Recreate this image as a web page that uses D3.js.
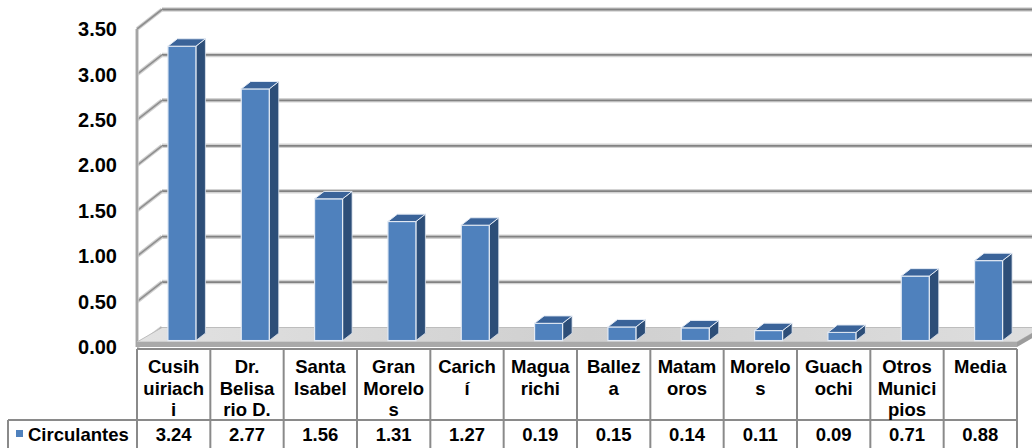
<!DOCTYPE html>
<html><head><meta charset="utf-8">
<script src="https://cdn.jsdelivr.net/npm/d3@7"></script>
<style>html,body{margin:0;padding:0;background:#fff;}svg{display:block;font-family:"Liberation Sans",Arial,sans-serif;}</style>
</head><body><svg id="c" width="1032" height="448"></svg>
<script>
const categories = ["Cusih\nuiriach\ni","Dr.\nBelisa\nrio D.","Santa\nIsabel","Gran\nMorelo\ns","Carich\ní","Magua\nrichi","Ballez\na","Matam\noros","Morelo\ns","Guach\nochi","Otros\nMunici\npios","Media"];
const values = [3.24,2.77,1.56,1.31,1.27,0.19,0.15,0.14,0.11,0.09,0.71,0.88];
const valueLabels = ["3.24","2.77","1.56","1.31","1.27","0.19","0.15","0.14","0.11","0.09","0.71","0.88"];
const yTicks = [0,0.5,1,1.5,2,2.5,3,3.5];
const seriesName = "Circulantes";

const svg = d3.select("#c");
const W = 1032, H = 448;
const DX = 25, DY = 19.5;           // depth projection
const x = d3.scaleBand().domain(categories).range([137, 1017]).padding(0);
const y = d3.scaleLinear().domain([0, 3.5]).range([347, 29]);
const bw = x.bandwidth();

const defs = svg.append("defs");
const fg = defs.append("linearGradient").attr("id","floorG").attr("x1",0).attr("y1",0).attr("x2",1).attr("y2",0);
fg.append("stop").attr("offset","0%").attr("stop-color","#e2e2e2");
fg.append("stop").attr("offset","50%").attr("stop-color","#cfcfcf");
fg.append("stop").attr("offset","100%").attr("stop-color","#dedede");

// back wall gridlines
const grid = svg.append("g");
yTicks.forEach(v => {
  const yb = y(v) - DY;
  if (v > 0) {
    grid.append("line").attr("x1",137+DX).attr("x2",W).attr("y1",yb).attr("y2",yb)
      .attr("stroke","#d3d3d3").attr("stroke-width",4.5);
    grid.append("line").attr("x1",137+DX).attr("x2",W).attr("y1",yb).attr("y2",yb)
      .attr("stroke","#828282").attr("stroke-width",1.8);
  }
  grid.append("line").attr("x1",137).attr("x2",137+DX).attr("y1",y(v)).attr("y2",yb)
    .attr("stroke","#d0d0d0").attr("stroke-width",4);
  grid.append("line").attr("x1",137).attr("x2",137+DX).attr("y1",y(v)).attr("y2",yb)
    .attr("stroke","#8f8f8f").attr("stroke-width",1.6);
});
// left wall front edge
grid.append("line").attr("x1",137).attr("x2",137).attr("y1",y(3.5)).attr("y2",y(0))
  .attr("stroke","#c8c8c8").attr("stroke-width",3.5);
grid.append("line").attr("x1",137).attr("x2",137).attr("y1",y(3.5)).attr("y2",y(0))
  .attr("stroke","#9a9a9a").attr("stroke-width",1.5);

// floor slab
const fy = y(0) - 5, by = y(0) - DY;
svg.append("polygon").attr("points",[[137,fy],[1017,fy],[1017+DX,by],[137+DX,by]].map(p=>p.join(",")).join(" "))
  .attr("fill","url(#floorG)").attr("stroke","#bdbdbd").attr("stroke-width",1);
svg.append("rect").attr("x",137).attr("y",fy).attr("width",880).attr("height",5).attr("fill","#a9a9a9");
svg.append("polygon").attr("points",[[1017,fy],[1017+DX,by],[1017+DX,by+5],[1017,y(0)]].map(p=>p.join(",")).join(" "))
  .attr("fill","#9c9c9c");

// bars
const zf = 0.33, dd = 0.38, w = 28;
const bars = svg.append("g");
categories.forEach((c, i) => {
  const v = values[i];
  const xl = x(c) + bw/2 - w/2 + zf*DX;
  const xr = xl + w;
  const yt = y(v) - zf*DY, yb = y(0) - zf*DY;
  const ox = dd*DX, oy = dd*DY;
  const pts = a => a.map(p=>p.join(",")).join(" ");
  bars.append("polygon").attr("points", pts([[xr,yt],[xr+ox,yt-oy],[xr+ox,yb-oy],[xr,yb]]))
    .attr("fill","#2d4e78").attr("stroke","#dfe6f0").attr("stroke-width",0.8);
  bars.append("rect").attr("x",xl).attr("y",yt).attr("width",w).attr("height",yb-yt)
    .attr("fill","#4f81bd").attr("stroke","#e4ebf5").attr("stroke-width",1.2);
  bars.append("polygon").attr("points", pts([[xl,yt],[xr,yt],[xr+ox,yt-oy],[xl+ox,yt-oy]]))
    .attr("fill","#3a6399").attr("stroke","#e4ebf5").attr("stroke-width",1);
});

// y axis labels
svg.append("g").selectAll("text").data(yTicks).join("text")
  .attr("x",117).attr("y",d=>y(d)).attr("dy","0.36em").attr("text-anchor","end")
  .attr("font-size",20).attr("font-weight","bold").attr("fill","#000")
  .text(d=>d3.format(".2f")(d));

// data table
const tg = svg.append("g");
const lc = "#8a8a8a";
const hl = (x1,x2,yy) => tg.append("line").attr("x1",x1).attr("x2",x2).attr("y1",yy).attr("y2",yy).attr("stroke",lc).attr("stroke-width",2);
const vl = (xx,y1,y2) => tg.append("line").attr("x1",xx).attr("x2",xx).attr("y1",y1).attr("y2",y2).attr("stroke",lc).attr("stroke-width",2);
hl(137,1017,349);
hl(8,1017,420);
vl(8,420,H);
categories.forEach(c => vl(x(c),349,H));
vl(1017,349,H);

categories.forEach((c,i) => {
  const lines = c.split("\n");
  const t = tg.append("text").attr("text-anchor","middle").attr("font-size",18.5).attr("font-weight","bold").attr("fill","#000");
  lines.forEach((ln,k) => t.append("tspan").attr("x", x(c)+bw/2).attr("y", 373 + k*21.5).text(ln));
  tg.append("text").attr("x", x(c)+bw/2).attr("y",441).attr("text-anchor","middle")
    .attr("font-size",18.5).attr("font-weight","bold").attr("fill","#000").text(valueLabels[i]);
});
tg.append("rect").attr("x",16).attr("y",430).attr("width",7).attr("height",7).attr("fill","#4f81bd");
tg.append("text").attr("x",28).attr("y",441).attr("font-size",18.5).attr("font-weight","bold").attr("fill","#000").text(seriesName);
</script></body></html>
